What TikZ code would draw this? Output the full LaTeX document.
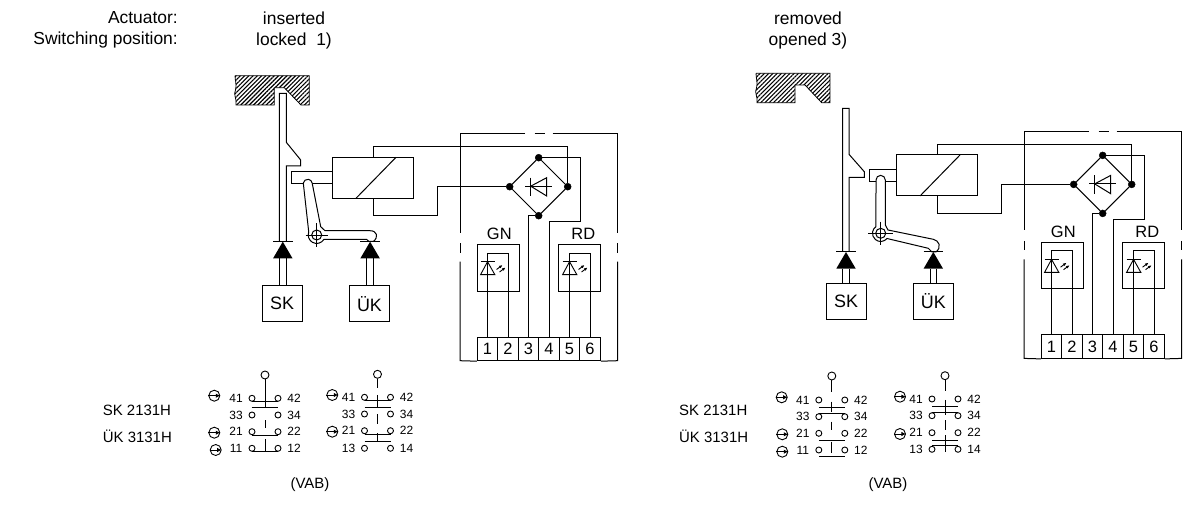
\documentclass[tikz,border=0pt]{standalone}
\usepackage{fontspec}
\setmainfont{Liberation Sans}
\usetikzlibrary{arrows.meta}
\usetikzlibrary{patterns.meta}
\tikzset{
  wire/.style={line width=1bp},
  thinwire/.style={line width=0.9bp},
  dotmark/.style={draw,circle,fill=black,inner sep=0pt,minimum size=7bp},
  boxnode/.style={draw,line width=1bp,inner sep=0pt,font=\fontsize{18}{18}\selectfont},
  cellnode/.style={boxnode,minimum width=20.5bp,minimum height=23.4bp,font=\fontsize{16.5}{16.5}\selectfont},
  contactmark/.style={draw,circle,thinwire,fill=white,inner sep=0pt,minimum size=6bp},
  lockmark/.style={draw,circle,thinwire,inner sep=0pt,minimum size=11bp},
  toplabel/.style={inner sep=0pt,font=\fontsize{17.5}{17.5}\selectfont},
  namelabel/.style={inner sep=0pt,font=\fontsize{15}{15}\selectfont},
  smalllabel/.style={inner sep=0pt,font=\fontsize{16.5}{16.5}\selectfont},
  pinlabel/.style={inner sep=0pt,font=\fontsize{12}{12}\selectfont},
  hatchblock/.style={line width=0.8bp,pattern={Lines[angle=45,distance=3bp,line width=1.1bp]}}
}
% led symbol
\newcommand{\ledmark}[1]{
  \draw [thinwire] (#1-7,261.7) -- (#1+7.3,261.7);
  \draw [thinwire] (#1,261.7) -- (#1-7,274.7) -- (#1+7.3,274.7) -- cycle;
  \draw [thinwire,-{Latex[length=3.5bp,width=3bp]}] (#1+9,269.5) -- (#1+15,265);
  \draw [thinwire,-{Latex[length=3.5bp,width=3bp]}] (#1+12,272) -- (#1+18,267.5);
}
% coil, bridge, lamps and terminals
\newcommand{\circuit}{
  \node (coil) at (373,177.8) [draw,wire,minimum width=81.7bp,minimum height=41bp] {};
  \draw [wire] (356,198.3) -- (396,157.3);
  \node (brt) at (538.7,157.7) [dotmark] {};
  \node (brl) at (509.7,186.7) [dotmark] {};
  \node (brr) at (567.7,186.7) [dotmark] {};
  \node (brb) at (538.7,215.7) [dotmark] {};
  \draw [wire] (brl) -- (brt) -- (brr) -- (brb) -- (brl);
  \draw [wire] (525,186.2) -- (552.3,186.2);
  \draw [wire] (530.7,177.7) -- (530.7,196);
  \draw [wire] (530.7,186.2) -- (546.7,177.7) -- (546.7,196) -- cycle;
  \foreach \i/\tx in {1/487.55,2/508.05,3/528.55,4/549.05,5/569.55,6/590.05}
    \node (t\i) at (\tx,349) [cellnode] {\i};
  \coordinate (wtop) at (567.7,146.7);
  \coordinate (wbot) at (437.3,215.7);
  \coordinate (wrgt) at (580,221.7);
  \draw [wire] (coil.north) |- (wtop) -- (brr);
  \draw [wire] (coil.south) |- (wbot) |- (brl);
  \draw [wire] (brt) -| (wrgt) -| (t4.north);
  \draw [wire] (brb) -| (t3.north);
  \node (gn) at (498.2,268) [draw,wire,minimum width=41.7bp,minimum height=46.6bp] {};
  \node (rd) at (579.7,268) [draw,wire,minimum width=41.7bp,minimum height=46.6bp] {};
  \node (gnlabel) at (499.3,233.7) [smalllabel] {GN};
  \node (rdlabel) at (583.3,233.7) [smalllabel] {RD};
  \coordinate (lgn) at (487.55,253.3);
  \coordinate (lrd) at (569.55,253.3);
  \draw [wire] (t1.north) -- (lgn) -| (t2.north);
  \draw [wire] (t5.north) -- (lrd) -| (t6.north);
  \ledmark{487.55}
  \ledmark{569.55}
  %% outer housing
  \draw [wire] (525,134) -- (460,134) -- (460,232.7);
  \draw [wire] (460,243.3) -- (460,252.7);
  \draw [wire] (460,261.7) -- (460,360.7) -- (t1.south west);
  \draw [wire] (534.5,134) -- (544.5,134);
  \draw [wire] (552.5,134) -- (617.7,134) -- (617.7,232.7);
  \draw [wire] (617.7,243.3) -- (617.7,252.7);
  \draw [wire] (617.7,261.7) -- (617.7,360.7) -- (t6.south east);
}
% arrow tip on a sensor: x, bar y, box top y
\newcommand{\sensor}[3]{
  \fill (#1,#2) -- (#1-9.7,#2+16.6) -- (#1+9.7,#2+16.6) -- cycle;
  \draw [wire] (#1-9.7,#2) -- (#1+9.7,#2);
  \draw [wire] (#1-3.2,#2+16.6) -- (#1-3.2,#3);
  \draw [wire] (#1+3.2,#2+16.6) -- (#1+3.2,#3);
}
% contact row: name, x, y, left number, right number
\newcommand{\contactrow}[5]{
  \node (#1a) at (#2-13,#3) [contactmark] {};
  \node (#1b) at (#2+13,#3) [contactmark] {};
  \node (#1l) at (#2-29,#3) [pinlabel] {#4};
  \node (#1r) at (#2+29,#3) [pinlabel] {#5};
}
% lock sign
\newcommand{\locksign}[3]{
  \node (#1) at (#2,#3) [lockmark] {};
  \draw [thinwire,-{Latex[length=4.5bp,width=4.5bp]}] (#1.west) -- (#1.east);
}
\begin{document}
\begin{tikzpicture}[x=1bp,y=-1bp,line join=miter]
\useasboundingbox (0,0) rectangle (1192,507);
%%
  \node (actuator) at (178,24) [toplabel,anchor=base east] {Actuator:};
  \node (position) at (178,45) [toplabel,anchor=base east] {Switching position:};
  \node (inserted) at (294,25) [toplabel,anchor=base] {inserted};
  \node (locked) at (294,46) [toplabel,anchor=base] {locked\ \ 1)};
  \node (removed) at (808,25) [toplabel,anchor=base] {removed};
  \node (opened) at (808,46) [toplabel,anchor=base] {opened 3)};
%% left mechanics
  \draw [hatchblock] (235,75.7) -- (309.3,75.7) -- (309.3,105) -- (301,105) -- (284.3,87.7) -- (274.3,87.7) -- (274.3,105) -- (236,105) .. controls (237,98) and (233,95) .. (235.5,90) .. controls (237,85) and (235,80) .. (235,75.7);
  \draw [wire] (279.3,241.7) -- (279.3,93.3) -- (286.3,93.3) -- (286.3,142.3) -- (300.7,160) -- (300.7,166) -- (286.3,166) -- (286.3,241.7);
  \begin{scope}[name prefix=l_]
    \circuit
  \end{scope}
  \draw [wire] (l_coil.west |- 0,171.7) -- (291.3,171.7) -- (291.3,183.7) -- (l_coil.west |- 0,183.7);
  \draw [wire,fill=white] (303.3,183) arc[start angle=170,end angle=10,radius=4.5bp] -- (320.7,226.7) -- (325,230.7) -- (370,230.7) .. controls (377,230.7) and (379,237) .. (373.3,241.5) -- (369,241.5) -- (366.5,239.3) -- (324,239.3) arc[start angle=-30.5,end angle=-200,radius=8.47bp] -- cycle;
  \node (l_pivot) at (316.7,235) [draw,circle,wire,inner sep=0pt,minimum size=10bp] {};
  \draw [thinwire] (305.7,235) -- (328.3,235);
  \draw [thinwire] (316.7,223.3) -- (316.7,246.7);
  \sensor{282.8}{241.7}{285.7}
  \sensor{370.1}{241.7}{285.7}
  \node (l_sk) at (282,303.7) [boxnode,minimum width=40bp,minimum height=36bp] {SK};
  \node (l_uk) at (369.5,303.7) [boxnode,minimum width=40bp,minimum height=36bp] {ÜK};
%% right mechanics
  \draw [hatchblock] (756,73.3) -- (830,73.3) -- (830,102.7) -- (821.7,102.7) -- (805,85) -- (795,85) -- (795,102.7) -- (757,102.7) .. controls (758,96) and (754,93) .. (756.5,88) .. controls (758,83) and (756,78) .. (756,73.3);
  \draw [wire] (842.7,252) -- (842.7,108.3) -- (849,108.3) -- (849,154.3) -- (864.3,171.7) -- (864.3,177.3) -- (849,177.3) -- (849,252);
  \begin{scope}[shift={(564,-2.3)},name prefix=r_]
    \circuit
  \end{scope}
  \draw [wire] (r_coil.west |- 0,169.3) -- (869.3,169.3) -- (869.3,181.7) -- (r_coil.west |- 0,181.7);
  \draw [wire,fill=white] (876,180) arc[start angle=180,end angle=0,radius=4.65bp] -- (885.3,225) -- (888,230) -- (933.3,239.3) .. controls (939,240.5) and (942,247) .. (936,252) -- (932,252) -- (928.3,248.3) -- (887,238.5) arc[start angle=-39.5,end angle=-235,radius=8.2bp] -- cycle;
  \node (r_pivot) at (880.7,233.3) [draw,circle,wire,inner sep=0pt,minimum size=10bp] {};
  \draw [thinwire] (868.3,233.3) -- (892.7,233.3);
  \draw [thinwire] (880.7,221.7) -- (880.7,245);
  \sensor{846}{252}{283.3}
  \sensor{933.3}{252}{283.3}
  \node (r_sk) at (846,301.3) [boxnode,minimum width=40bp,minimum height=36bp] {SK};
  \node (r_uk) at (933.3,301.3) [boxnode,minimum width=40bp,minimum height=36bp] {ÜK};
%% contact tables
  \node (l_name1) at (102.7,415.7) [namelabel,anchor=base west] {SK 2131H};
  \node (l_name2) at (102.7,442.3) [namelabel,anchor=base west] {ÜK 3131H};
  \node (r_name1) at (679,415.7) [namelabel,anchor=base west] {SK 2131H};
  \node (r_name2) at (679,442.3) [namelabel,anchor=base west] {ÜK 3131H};
  \node (l_vab) at (310,485) [namelabel] {(VAB)};
  \node (r_vab) at (888,485) [namelabel] {(VAB)};
%% first table
  \node (atop) at (265,375) [contactmark,minimum size=8bp] {};
  \contactrow{a4}{265}{398.3}{41}{42}
  \contactrow{a3}{265}{415}{33}{34}
  \contactrow{a2}{265}{431.7}{21}{22}
  \contactrow{a1}{265}{448.3}{11}{12}
  \locksign{alock4}{214.3}{395.7}
  \locksign{alock2}{214.3}{432.7}
  \locksign{alock1}{215.7}{450}
  \draw [thinwire] (atop.south) -- (265,407.7);
  \draw [thinwire] (a4a.south) -- (a4b.south);
  \draw [thinwire] (251.7,407.7) -- (277.7,407.7);
  \draw [thinwire] (265,420) -- (265,428.3);
  \draw [thinwire] (a2a.south) -- (a2b.south);
  \draw [thinwire] (a1a.south) -- (a1b.south);
  \draw [thinwire] (265,439) -- (265,450.7);
%% second table
  \node (btop) at (377.5,374.3) [contactmark,minimum size=8bp] {};
  \contactrow{b4}{377.5}{397.3}{41}{42}
  \contactrow{b3}{377.5}{414}{33}{34}
  \contactrow{b2}{377.5}{430.7}{21}{22}
  \contactrow{b1}{377.5}{448.3}{13}{14}
  \locksign{block4}{332.3}{395}
  \locksign{block2}{332.3}{431.7}
  \draw [thinwire] (btop.south) -- (377.5,388.3);
  \draw [thinwire] (b4a.south) -- (b4b.south);
  \draw [thinwire] (377.5,395) -- (377.5,407.3);
  \draw [thinwire] (364.5,407.3) -- (390.5,407.3);
  \draw [thinwire] (377.5,414) -- (377.5,424.3);
  \draw [thinwire] (b2a.south) -- (b2b.south);
  \draw [thinwire] (377.5,433.3) -- (377.5,441);
  \draw [thinwire] (364.5,441) -- (390.5,441);
%% third table
  \node (ctop) at (831.8,376) [contactmark,minimum size=8bp] {};
  \contactrow{c4}{831.8}{400}{41}{42}
  \contactrow{c3}{831.8}{416.7}{33}{34}
  \contactrow{c2}{831.8}{433.3}{21}{22}
  \contactrow{c1}{831.8}{450}{11}{12}
  \locksign{clock4}{781.7}{397.3}
  \locksign{clock2}{782.3}{434.3}
  \locksign{clock1}{782.3}{451.7}
  \draw [thinwire] (ctop.south) -- (831.8,391.7);
  \draw [thinwire] (831.8,401.7) -- (831.8,411.7);
  \draw [thinwire] (818.8,407) -- (844.8,407);
  \draw [thinwire] (c3a.north) -- (c3b.north);
  \draw [thinwire] (831.8,421.7) -- (831.8,430);
  \draw [thinwire] (818.8,440.7) -- (844.8,440.7);
  \draw [thinwire] (831.8,441.7) -- (831.8,453.3);
  \draw [thinwire] (818.8,456.7) -- (844.8,456.7);
%% fourth table
  \node (dtop) at (945,375.7) [contactmark,minimum size=8bp] {};
  \contactrow{d4}{945}{399}{41}{42}
  \contactrow{d3}{945}{415.7}{33}{34}
  \contactrow{d2}{945}{432.7}{21}{22}
  \contactrow{d1}{945}{449.3}{13}{14}
  \locksign{dlock4}{900}{396.7}
  \locksign{dlock2}{900}{434}
  \draw [thinwire] (dtop.south) -- (945,391);
  \draw [thinwire] (945,400) -- (945,415);
  \draw [thinwire] (932,406) -- (958,406);
  \draw [thinwire] (d3a.north) -- (d3b.north);
  \draw [thinwire] (945,420) -- (945,430);
  \draw [thinwire] (932,440) -- (958,440);
  \draw [thinwire] (945,435) -- (945,451.7);
  \draw [thinwire] (d1a.north) -- (d1b.north);
%
\end{tikzpicture}
\end{document}
